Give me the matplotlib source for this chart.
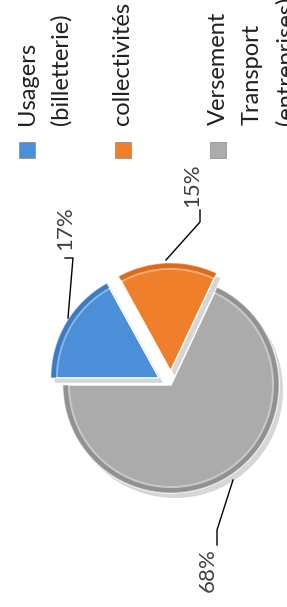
import matplotlib.pyplot as plt
from matplotlib.patches import Rectangle

# data
labels = ["Usagers\n(billetterie)", "collectivités", "Versement\nTransport\n(entreprises)"]
shares = [17, 15, 68]
colors = ["#4a8fd8", "#f07f2c", "#ababab"]
rim_colors = ["#2e6bb0", "#c85c10", "#7d7d7d"]
explode_frac = [0.13, 0.13, 0.0]

W, H = 287, 607
fig = plt.figure(figsize=(W / 100, H / 100), dpi=100)
ax = fig.add_axes([0, 0, 1, 1])

cx, cy, r = 171, H - 385, 108
explode = [e * r for e in explode_frac]  # pie() takes explode in data units
font = ["Lato", "DejaVu Sans"]
pie_kw = dict(startangle=180, counterclock=False, explode=explode, frame=True)

# soft shadow
ax.pie(shares, center=(cx + 4, cy - 5), radius=r, colors=["#d6d6d6"] * 3,
       wedgeprops=dict(linewidth=0), **pie_kw)
# slice faces
ax.pie(shares, center=(cx, cy), radius=r, colors=colors,
       wedgeprops=dict(linewidth=1.0, edgecolor="white"), **pie_kw)
# darker bevel rim along the arcs
ax.pie(shares, center=(cx, cy), radius=r, colors=rim_colors,
       wedgeprops=dict(width=5, linewidth=0, alpha=0.55), **pie_kw)
# light highlight just inside the rim
ax.pie(shares, center=(cx, cy), radius=r - 5, colors=["white"] * 3,
       wedgeprops=dict(width=2, linewidth=0, alpha=0.35), **pie_kw)

ax.set_xlim(0, W)
ax.set_ylim(0, H)
ax.set_aspect("equal")
ax.axis("off")

# percentage labels with leader lines
pct_pos = [(65, H - 228), (192, H - 185), (208, H - 570)]
leaders = [
    [(65, H - 258), (73, H - 258), (68, H - 318)],
    [(200, H - 210), (200, H - 222), (166, H - 260)],
    [(217, H - 545), (217, H - 530), (233, H - 480)],
]
for s, (x, y), pts in zip(shares, pct_pos, leaders):
    ax.text(x, y, f"{s}%", rotation=90, ha="center", va="center",
            fontsize=16, color="#404040", family=font)
    xs, ys = zip(*pts)
    ax.plot(xs, ys, color="black", lw=1.0)

# legend (rotated)
leg_x = [27, 123, 218]
leg_y = H - 150
for lab, c, x in zip(labels, colors, leg_x):
    ax.add_patch(Rectangle((x - 8, leg_y - 8), 16, 16, facecolor=c,
                           edgecolor="#888888", lw=0.5))
    for i, line in enumerate(lab.split("\n")):
        ax.text(x + i * 34, H - 125, line, rotation=90, ha="center", va="bottom",
                fontsize=17, color="#202020", family=font)

fig.savefig("out.png", dpi=100)
